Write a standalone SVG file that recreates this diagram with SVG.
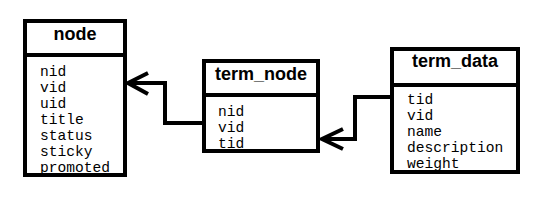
<svg xmlns="http://www.w3.org/2000/svg" width="551" height="205" viewBox="0 0 551 205">
<style>
.box{fill:#fff;stroke:#000;stroke-width:4}
.div{stroke:#000;stroke-width:4}
.title{font-family:"Liberation Sans",Arial,sans-serif;font-weight:bold;font-size:18px;text-anchor:middle;fill:#000}
.f{font-family:"Liberation Mono","Courier New",monospace;font-size:14.6px;fill:#000}
.c{fill:none;stroke:#000;stroke-width:4}
</style>
<rect width="551" height="205" fill="#fff"/>
<g id="connectors">
<polyline class="c" points="203,123 165,123 165,83 128,83"/>
<polyline class="c" points="148,73 128,83 148,94"/>
<polyline class="c" points="392,97 355,97 355,139 322,139"/>
<polyline class="c" points="343,129 322,139 343,149"/>
</g>
<g id="node">
<rect class="box" x="25" y="21" width="100" height="154"/>
<line class="div" x1="25" y1="55" x2="125" y2="55"/>
<text class="title" x="75" y="40">node</text>
<text class="f" x="40" y="76">nid</text>
<text class="f" x="40" y="92">vid</text>
<text class="f" x="40" y="108">uid</text>
<text class="f" x="40" y="124">title</text>
<text class="f" x="40" y="140">status</text>
<text class="f" x="40" y="156">sticky</text>
<text class="f" x="40" y="172">promoted</text>
</g>
<g id="term_node">
<rect class="box" x="204" y="61" width="114" height="90"/>
<line class="div" x1="204" y1="95" x2="318" y2="95"/>
<text class="title" x="261" y="80">term_node</text>
<text class="f" x="218" y="116">nid</text>
<text class="f" x="218" y="132">vid</text>
<text class="f" x="218" y="148">tid</text>
</g>
<g id="term_data">
<rect class="box" x="392" y="49" width="126" height="123"/>
<line class="div" x1="392" y1="85" x2="518" y2="85"/>
<text class="title" x="455" y="67">term_data</text>
<text class="f" x="407" y="104">tid</text>
<text class="f" x="407" y="120">vid</text>
<text class="f" x="407" y="136">name</text>
<text class="f" x="407" y="152">description</text>
<text class="f" x="407" y="168">weight</text>
</g>
</svg>
